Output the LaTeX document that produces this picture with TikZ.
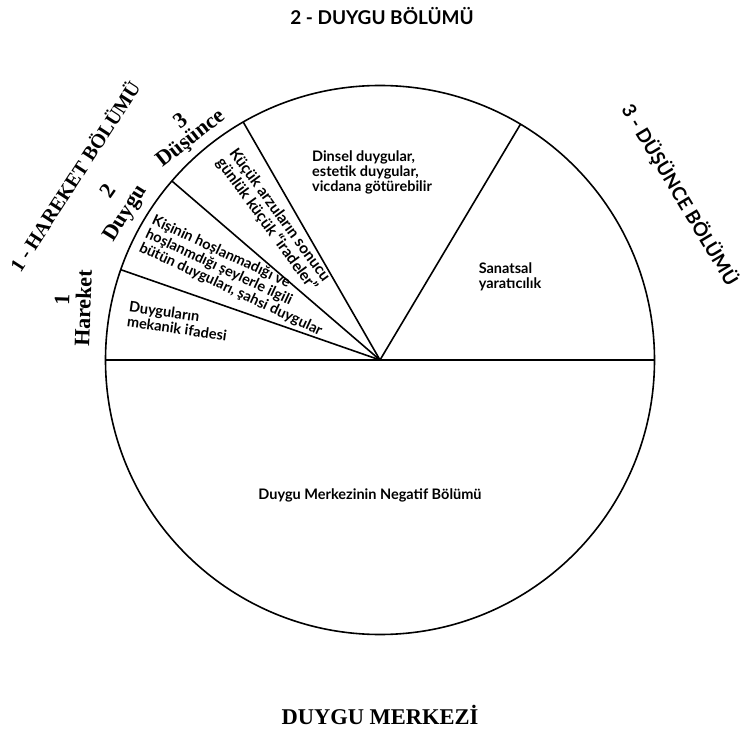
\documentclass[tikz,border=0pt]{standalone}
\usepackage{fontspec}
\setmainfont{Liberation Serif}
\newfontfamily\sansf{Lato}
\begin{document}
\begin{tikzpicture}[x=1pt,y=-1pt,
  pie/.style={line width=1.6pt},
  inner/.style={font=\sansf\bfseries\fontsize{14.5}{15}\selectfont, align=left, inner sep=0pt},
  sideserif/.style={font=\bfseries\fontsize{22}{22}\selectfont, inner sep=0pt},
  bigserif/.style={font=\bfseries\fontsize{20}{20}\selectfont, inner sep=0pt},
  bigsans/.style={font=\sansf\bfseries\fontsize{19}{19}\selectfont, inner sep=0pt}
  ]
\useasboundingbox (0,0) rectangle (748,738);
\fill[white] (0,0) rectangle (748,738);
\coordinate (C) at (380,360);
\coordinate (L) at (105.5,360);
\coordinate (R) at (654.5,360);
\coordinate (A) at (120.8,269.7);
\coordinate (B) at (171.9,181.0);
\coordinate (Cc) at (243.2,122.0);
\coordinate (D) at (520.5,124.2);
\draw[pie] (C) circle [radius=274.5];
\draw[pie] (L) -- (R);
\draw[pie] (C) -- (A);
\draw[pie] (C) -- (B);
\draw[pie] (C) -- (Cc);
\draw[pie] (C) -- (D);

% titles
\node[bigsans] (t2) at (382,16) {2 - DUYGU BÖLÜMÜ};
\node[font=\bfseries\fontsize{22.5}{22.5}\selectfont, inner sep=0pt] (tm) at (380,715) {DUYGU MERKEZİ};
\node[bigserif, rotate=57] (t1) at (74,176) {1 - HAREKET BÖLÜMÜ};
\node[bigsans, rotate=-59] (t3) at (680,195) {3 - DÜŞÜNCE BÖLÜMÜ};

% side labels
\node[sideserif, rotate=88] (n1) at (62,300) {1};
\node[sideserif, rotate=88] (w1) at (83,308) {Hareket};
\node[sideserif, rotate=55] (n2) at (107.5,191) {2};
\node[sideserif, rotate=58] (w2) at (126,214) {Duygu};
\node[sideserif, rotate=38] (n3) at (180,120) {3};
\node[sideserif, rotate=38] (w3) at (191,139) {Düşünce};

% inner texts
\node[inner] (dinsel) at (372,172) {Dinsel duygular,\\estetik duygular,\\vicdana götürebilir};
\node[inner] (sanat) at (510,277) {Sanatsal\\yaratıcılık};
\node[inner] (neg) at (370,495) {Duygu Merkezinin Negatif Bölümü};
\node[inner, rotate=-8] (mek) at (178,321) {Duyguların\\mekanik ifadesi};
\node[inner, rotate=-25] (kisi) at (237,276) {Kişinin hoşlanmadığı ve\\hoşlanmdığı şeylerle ilgili\\bütün duyguları, şahsi duygular};
\node[inner, font=\sansf\bfseries\fontsize{15.5}{16}\selectfont, rotate=-54] (kucuk) at (273,220) {Küçük arzuların sonucu\\günlük küçük “iradeler”};
\end{tikzpicture}
\end{document}
